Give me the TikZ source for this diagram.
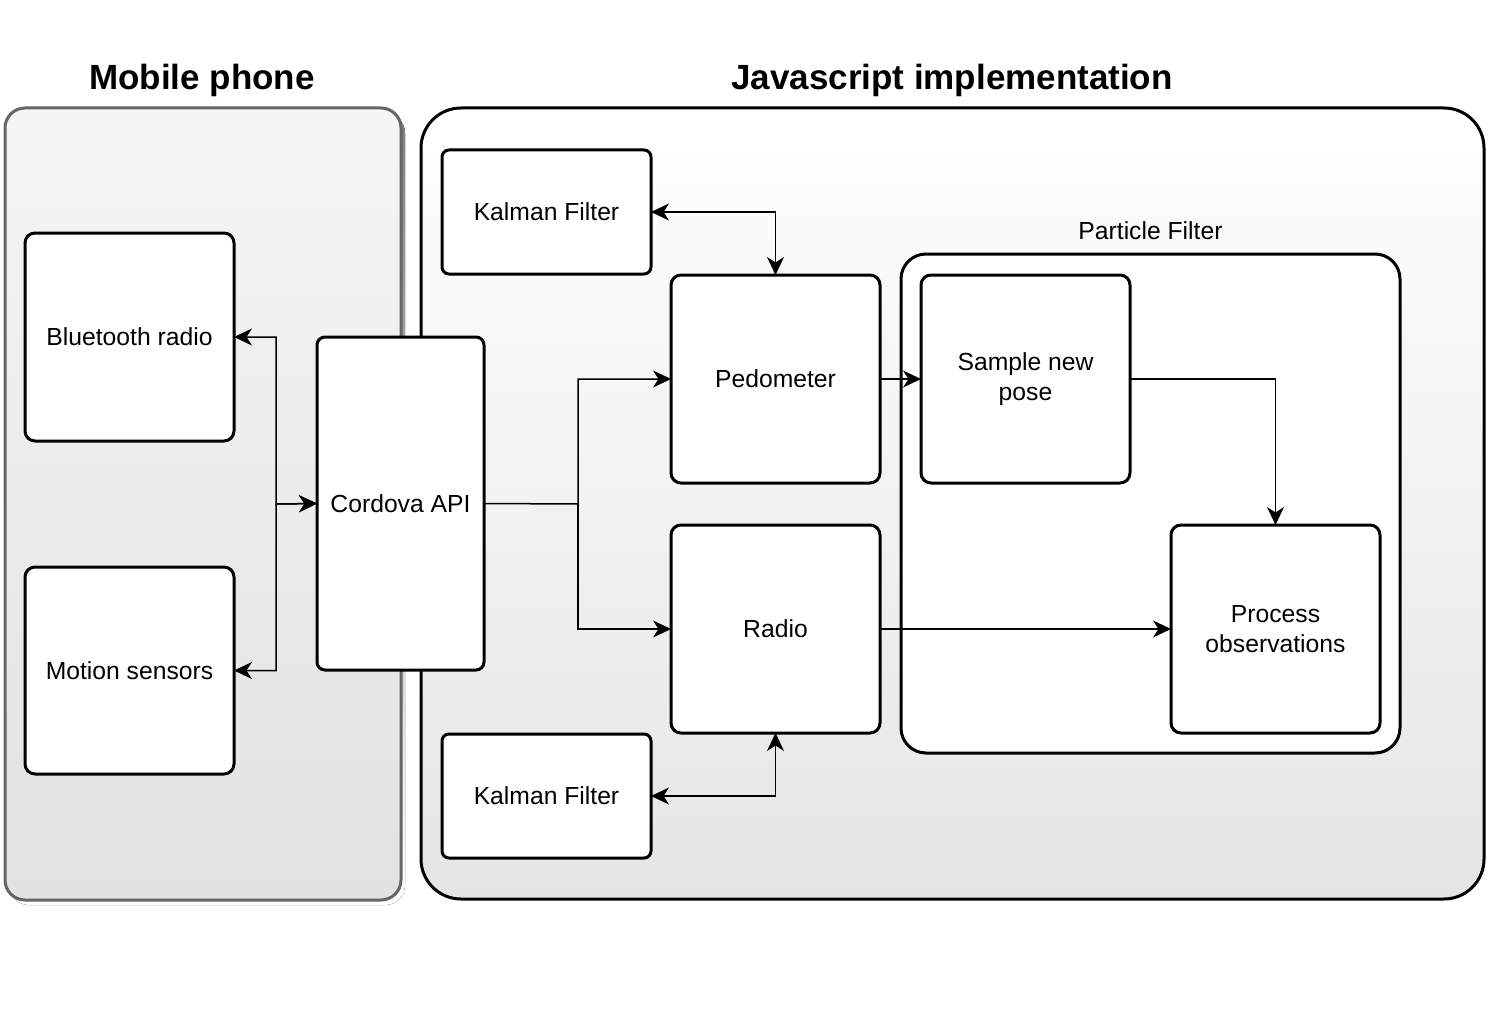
\documentclass[tikz,border=0pt]{standalone}
\usepackage{fontspec}
\setmainfont{Liberation Sans}
\usepackage{tikz}
\usetikzlibrary{arrows.meta}

\definecolor{phonetop}{HTML}{F5F5F5}
\definecolor{phonebot}{HTML}{E2E2E2}
\definecolor{phoneline}{HTML}{666666}
\definecolor{jstop}{HTML}{FFFFFF}
\definecolor{jsbot}{HTML}{E5E5E5}
\definecolor{shade}{HTML}{D2D2D2}

\tikzset{clsc/.tip={Stealth[length=18pt,width=17pt,inset=5.5pt]}}

\begin{document}
\begin{tikzpicture}[x=1pt,y=-1pt,
	block/.style={draw, line width=3pt, fill=white, rounded corners=10pt, inner sep=0pt, outer sep=0pt, align=center, font=\fontsize{24.7}{29.5}\selectfont},
	conn/.style={line width=1.5pt},
	title/.style={font=\fontsize{35}{40}\selectfont\bfseries}]
	\useasboundingbox (0,0) rectangle (1489,1022);
	
	% containers
	\fill [shade, rounded corners=20pt] (9,113) rectangle (405,905);
	\draw [phoneline, line width=3pt, top color=phonetop, bottom color=phonebot, rounded corners=20pt] (5,108) rectangle (401,900);
	\draw [line width=3pt, top color=jstop, bottom color=jsbot, rounded corners=40pt] (421,108) rectangle (1484,899);
	\node [title] (phoneT) at (202,80) {Mobile phone};
	\node [title] (jsT) at (952,80) {Javascript implementation};
	
	\node [block, rounded corners=25pt, minimum width=499pt, minimum height=499pt] (pf) at (1150.5,503.5) {};
	\node [font=\fontsize{24.7}{29.5}\selectfont, above=11pt] (pfT) at (pf.north) {Particle Filter};
	
	% blocks
	\node [block, minimum width=209pt, minimum height=208pt] (bt) at (129.5,337) {Bluetooth radio};
	\node [block, minimum width=209pt, minimum height=207pt] (ms) at (129.5,670.5) {Motion sensors};
	\node [block, rounded corners=8pt, minimum width=167pt, minimum height=333pt] (cordova) at (400.5,503.5) {Cordova API};
	\node [block, rounded corners=7pt, minimum width=209pt, minimum height=124pt] (kalA) at (546.5,212) {Kalman Filter};
	\node [block, rounded corners=7pt, minimum width=209pt, minimum height=124pt] (kalB) at (546.5,796) {Kalman Filter};
	\node [block, minimum width=209pt, minimum height=208pt] (pedo) at (775.5,379) {Pedometer};
	\node [block, minimum width=209pt, minimum height=208pt] (radio) at (775.5,629) {Radio};
	\node [block, minimum width=209pt, minimum height=208pt] (sample) at (1025.5,379) {Sample new\\pose};
	\node [block, minimum width=209pt, minimum height=208pt] (proc) at (1275.5,629) {Process\\observations};
	
	% connectors
	\coordinate (jl) at (276,504);
	\coordinate (jr) at (578,504);
	\draw [conn, clsc-clsc] (bt.east) -| (jl) -- (cordova.west);
	\draw [conn, clsc-clsc] (ms.east) -| (jl) -- (cordova.west);
	\draw [conn, -clsc] (cordova.east) -- (jr) |- (pedo.west);
	\draw [conn, -clsc] (jr) |- (radio.west);
	\draw [conn, clsc-clsc] (kalA.east) -| (pedo.north);
	\draw [conn, clsc-clsc] (kalB.east) -| (radio.south);
	\draw [conn, -clsc] (pedo.east) -- (sample.west);
	\draw [conn, -clsc] (sample.east) -| (proc.north);
	\draw [conn, -clsc] (radio.east) -- (proc.west);
	
\end{tikzpicture}
\end{document}
